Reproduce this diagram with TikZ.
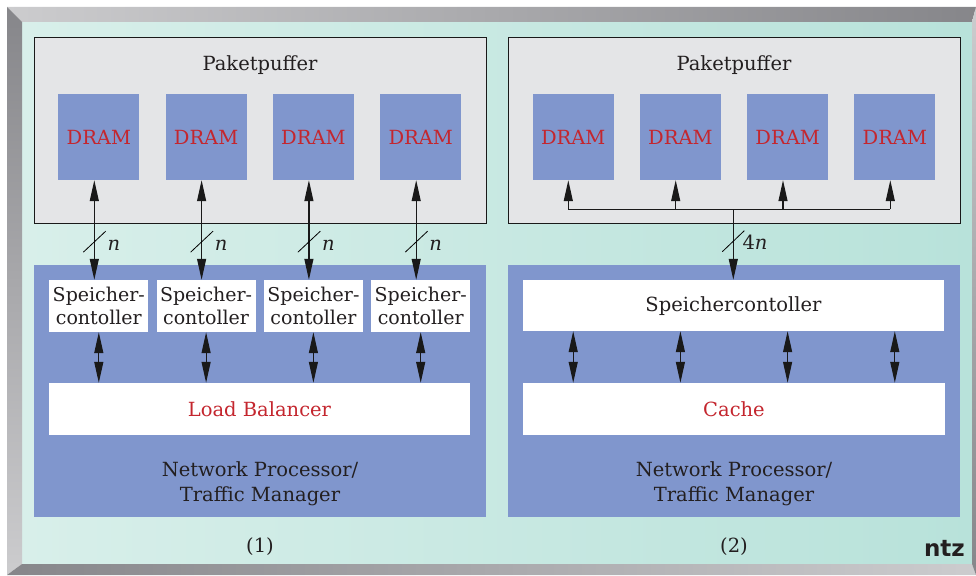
\documentclass[tikz,border=0pt]{standalone}
\usepackage{fontspec}
\setmainfont{DejaVu Serif}
\newfontfamily\logofont{DejaVu Sans}
\usetikzlibrary{arrows.meta,calc}
\definecolor{npblue}{RGB}{128,150,205}
\definecolor{pgray}{RGB}{228,229,231}
\definecolor{dramred}{RGB}{196,38,46}
\definecolor{tealL}{RGB}{216,239,234}
\definecolor{tealR}{RGB}{184,226,218}
\definecolor{frL}{RGB}{204,204,206}
\definecolor{frD}{RGB}{134,134,138}
\definecolor{txt}{RGB}{35,31,32}
\newcommand{\bigtxt}{\fontsize{19.5}{24.3}\selectfont}
\begin{document}
\begin{tikzpicture}[x=1pt,y=-1pt,
  graybox/.style={draw=black!90,line width=1pt,fill=pgray,minimum width=452pt,minimum height=185pt,inner sep=0pt},
  drambox/.style={fill=npblue,minimum width=81pt,minimum height=86pt,inner sep=0pt,text=dramred,font=\bigtxt},
  npbox/.style={fill=npblue,minimum width=452pt,minimum height=252pt,inner sep=0pt},
  whitebox/.style={fill=white,inner sep=0pt},
  lbl/.style={text=txt,font=\bigtxt,inner sep=0pt},
  sclbl/.style={whitebox,minimum width=99pt,minimum height=52pt,text=txt,align=center,font=\fontsize{19}{23.5}\selectfont},
  longarr/.style={line width=1.2pt,draw=black!90,{Triangle[length=21pt,width=9pt]}-{Triangle[length=21pt,width=9pt]}},
  downarr/.style={line width=1.2pt,draw=black!90,-{Triangle[length=21pt,width=9pt]}},
  busline/.style={line width=1.2pt,draw=black!90},
  slash/.style={line width=0.8pt,draw=black},
  buslbl/.style={text=txt,font=\bigtxt,inner sep=0pt},
]
\useasboundingbox (0,0) rectangle (976,575);
% frame
\shade[left color=tealL,right color=tealR] (22,22) rectangle (972,564);
\shade[left color=frL,right color=frD] (7,7) -- (976,7) -- (972,22) -- (22,22) -- cycle;
\shade[top color=frD,bottom color=frL] (7,7) -- (22,22) -- (22,564) -- (7,575) -- cycle;
\shade[left color=frD,right color=frL] (7,575) -- (22,564) -- (972,564) -- (976,575) -- cycle;
\shade[top color=frL,bottom color=frD] (976,7) -- (976,575) -- (972,564) -- (972,22) -- cycle;

% packet buffers
\node[graybox] (pbL) at (260,130.5) {};
\node[graybox] (pbR) at (734,130.5) {};
\node[lbl,anchor=base] (ptL) at (260,71) {Paketpuffer};
\node[lbl,anchor=base] (ptR) at (734,71) {Paketpuffer};

\foreach \i/\x in {1/98.8,2/206.1,3/313.4,4/420.7}{
  \node[drambox] (dL\i) at (\x,137) {DRAM};
}
\foreach \i/\x in {1/573.2,2/680.4,3/787.6,4/894.8}{
  \node[drambox] (dR\i) at (\x,137) {DRAM};
}

% NP boxes
\node[npbox] (npL) at (260,390.8) {};
\node[npbox] (npR) at (734,390.8) {};

\foreach \i/\x in {1/98.8,2/206.1,3/313.4,4/420.7}{
  \node[sclbl] (sL\i) at (\x,306) {Speicher-\\contoller};
}
\node[whitebox,minimum width=421pt,minimum height=51pt] (sR) at (733.5,305.5) {};
\node[lbl,anchor=base] (sRt) at (733.5,311) {Speichercontoller};
\node[whitebox,minimum width=421pt,minimum height=52pt,text=dramred,font=\bigtxt] (lb) at (259.5,409) {Load Balancer};
\node[whitebox,minimum width=422pt,minimum height=52pt,text=dramred,font=\bigtxt] (cache) at (734,409) {Cache};

\node[lbl,align=center,anchor=base] (npTL) at (260,501) {Network Processor/\\Traffic Manager};
\node[lbl,align=center,anchor=base] (npTR) at (734,501) {Network Processor/\\Traffic Manager};

\node[lbl,anchor=base] (c1) at (260,552) {(1)};
\node[lbl,anchor=base] (c2) at (734,552) {(2)};
\node[text=txt,font=\logofont\bfseries\fontsize{23}{23}\selectfont,inner sep=0pt,anchor=base east] (logo) at (965,556) {ntz};

% left connectors
\foreach \i/\x in {1/94.3,2/201.6,3/308.9,4/416.2}{
  \coordinate (aL\i) at (\x,0);
  \draw[longarr] (dL\i.south -| aL\i) -- (sL\i.north -| aL\i);
  \draw[slash] ($(dL\i.south -| aL\i)+(-11,72)$) -- ($(dL\i.south -| aL\i)+(11.4,51)$);
  \node[buslbl,anchor=base west] at ($(dL\i.south -| aL\i)+(13,70)$) {\itshape n};
  \draw[longarr] (sL\i.south) -- (lb.north -| sL\i.south);
}
% right connectors
\coordinate (busL) at (568.3,209.3);
\coordinate (busR) at (890.3,209.3);
\coordinate (busM) at (733.3,209.3);
\draw[busline] (busL) -- (busR);
\foreach \i/\x in {1/568.3,2/675.7,3/783,4/890.3}{
  \coordinate (bR\i) at (\x,209.3);
  \draw[downarr] (bR\i) -- (dR\i.south -| bR\i);
  \draw[longarr] (sR.south -| dR\i.south) -- (cache.north -| dR\i.south);
}
\draw[downarr] (busM) -- (sR.north -| busM);
\draw[slash] ($(busM)+(-11,42.4)$) -- ($(busM)+(11,21.4)$);
\node[buslbl,anchor=base west] at ($(busM)+(9,40.5)$) {4\itshape n};
\end{tikzpicture}
\end{document}
